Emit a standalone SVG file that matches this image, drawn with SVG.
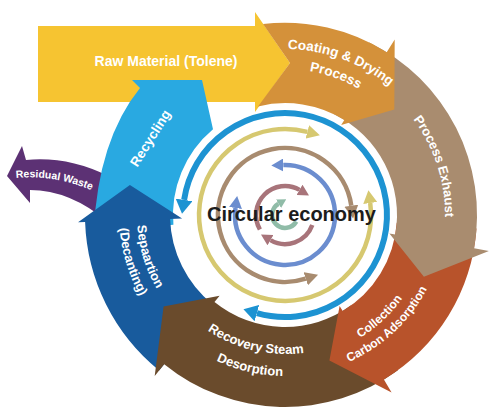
<svg xmlns="http://www.w3.org/2000/svg" width="500" height="417" viewBox="0 0 500 417">
<style>
.lbl{font-family:"Liberation Sans",Arial,sans-serif;font-weight:bold;fill:#ffffff}
.ring{fill:none;stroke-linecap:butt}
.ctr{font-family:"Liberation Sans",Arial,sans-serif;font-weight:bold;fill:#1c1c1c}
</style>
<defs>
<marker id="mBlue" markerUnits="userSpaceOnUse" viewBox="0 0 14 17" refX="0" refY="8.5" markerWidth="14" markerHeight="17" orient="auto-start-reverse"><path d="M0,0 L14,8.5 L0,17 Z" fill="#1D93D2"/></marker>
<marker id="mYel" markerUnits="userSpaceOnUse" viewBox="0 0 13 14" refX="0" refY="7" markerWidth="13" markerHeight="14" orient="auto-start-reverse"><path d="M0,0 L13,7 L0,14 Z" fill="#D6C870"/></marker>
<marker id="mTan" markerUnits="userSpaceOnUse" viewBox="0 0 13 14" refX="0" refY="7" markerWidth="13" markerHeight="14" orient="auto-start-reverse"><path d="M0,0 L13,7 L0,14 Z" fill="#A88B6F"/></marker>
<marker id="mPer" markerUnits="userSpaceOnUse" viewBox="0 0 12 13" refX="0" refY="6.5" markerWidth="12" markerHeight="13" orient="auto-start-reverse"><path d="M0,0 L12,6.5 L0,13 Z" fill="#6B8DCF"/></marker>
<marker id="mMau" markerUnits="userSpaceOnUse" viewBox="0 0 11 12" refX="0" refY="6" markerWidth="11" markerHeight="12" orient="auto-start-reverse"><path d="M0,0 L11,6 L0,12 Z" fill="#A8747A"/></marker>
<marker id="mSag" markerUnits="userSpaceOnUse" viewBox="0 0 9 10" refX="0" refY="5" markerWidth="9" markerHeight="10" orient="auto-start-reverse"><path d="M0,0 L9,5 L0,10 Z" fill="#90BCA8"/></marker>
<path id="tCoat1" d="M178.3,87.9 A166,166 0 0 1 448.5,186.2"/>
<path id="tCoat2" d="M191.2,103.2 A146,146 0 0 1 428.8,189.6"/>
<path id="tExh" d="M318.3,58.5 A160,160 0 0 1 403.9,322.1"/>
<path id="tCol1" d="M242.9,352.7 A144,144 0 0 0 425.3,182.6"/>
<path id="tCol2" d="M238.2,368.1 A160,160 0 0 0 440.9,179"/>
<path id="tRec1" d="M152.1,255.6 A139,139 0 0 0 386.7,309.8"/>
<path id="tRec2" d="M131,262.1 A161,161 0 0 0 402.7,324.8"/>
<path id="tSep1" d="M176.7,114 A148,148 0 0 0 251.7,359.2"/>
<path id="tSep2" d="M163.6,101.8 A166,166 0 0 0 247.6,376.7"/>
<path id="tRes" d="M16,178 Q58,174 100,194"/>
</defs>

<g id="raw-material">
<path d="M38,26 L255,26 L255,12 L290,63 L255,112 L255,102 L38,102 Z" fill="#F6C431"/>
<text class="lbl" x="166" y="66" font-size="14" text-anchor="middle">Raw Material (Tolene)</text>
</g>

<g id="residual-waste">
<path d="M7,176 L22,146 L26,160 Q68,156 108,176 L108,222 Q70,190 30,190 L30,203 Z" fill="#5C3174"/>
<text class="lbl" font-size="10.5"><textPath href="#tRes">Residual Waste</textPath></text>
</g>

<g id="recycling">
<path d="M132,80 L202,80 L213,129.2 A112,112 0 0 0 173.4,224.8 L93.7,231.7 Q98,140 140,88 Z" fill="#29A9E1"/>
<text class="lbl" font-size="13.5" text-anchor="middle" transform="translate(150,138) rotate(-58)" y="5">Recycling</text>
</g>

<g id="separation">
<path d="M159.1,370.4 A200,200 0 0 1 85.1,222 L78.1,222.2 L129.9,184.9 L182.1,218.6 L170.1,219 A115,115 0 0 0 212.6,304.4 Z" fill="#185B9D"/>
<text class="lbl" font-size="13" text-anchor="middle"><textPath href="#tSep1" startOffset="50%">Sepaartion</textPath></text>
<text class="lbl" font-size="13" text-anchor="middle"><textPath href="#tSep2" startOffset="50%">(Decanting)</textPath></text>
</g>

<g id="recovery">
<path d="M397.9,370.3 A192,192 0 0 1 164.2,364.2 L154.7,375.9 L163.6,306.5 L219.6,295.8 L214.5,302 A112,112 0 0 0 350.8,305.6 Z" fill="#6A4B2C"/>
<text class="lbl" font-size="13" text-anchor="middle"><textPath href="#tRec1" startOffset="50%">Recovery Steam</textPath></text>
<text class="lbl" font-size="13" text-anchor="middle"><textPath href="#tRec2" startOffset="50%">Desorption</textPath></text>
</g>

<g id="collection">
<path d="M476.5,228.4 A192,192 0 0 1 383.9,379.6 L391.6,392.4 L329.4,360.4 L339.6,305.9 L342.7,311 A112,112 0 0 0 396.7,222.8 Z" fill="#B8532B"/>
<text class="lbl" font-size="12" text-anchor="middle"><textPath href="#tCol1" startOffset="50%">Collection</textPath></text>
<text class="lbl" font-size="12" text-anchor="middle"><textPath href="#tCol2" startOffset="50%">Carbon Adsorption</textPath></text>
</g>

<g id="process-exhaust">
<path d="M369.2,42.4 A192,192 0 0 1 474.1,248.3 L488.9,250.9 L423.9,276.8 L389.4,233.4 L395.3,234.4 A112,112 0 0 0 334.1,114.3 Z" fill="#A98C6F"/>
<text class="lbl" font-size="13" text-anchor="middle"><textPath href="#tExh" startOffset="50%">Process Exhaust</textPath></text>
</g>

<g id="coating">
<path d="M263,24 A192,192 0 0 1 386.7,52.2 L394.7,39.5 L394.3,109.4 L341.2,125.1 L344.3,120 A112,112 0 0 0 258,106.5 L290,63 Z" fill="#D4913A"/>
<text class="lbl" font-size="13.5" text-anchor="middle"><textPath href="#tCoat1" startOffset="50%">Coating &amp; Drying</textPath></text>
<text class="lbl" font-size="13.5" text-anchor="middle"><textPath href="#tCoat2" startOffset="50%">Process</textPath></text>
</g>

<g id="connectors">
<path class="ring" d="M256.9,313.1 A102,102 0 1 0 184.1,199.9" stroke="#1D93D2" stroke-width="6" marker-start="url(#mBlue)" marker-end="url(#mBlue)"/>
<path class="ring" d="M370.2,203 A86,86 0 1 1 307.3,131.9" stroke="#D6C870" stroke-width="4.5" marker-start="url(#mYel)" marker-end="url(#mYel)"/>
<path class="ring" d="M305.7,278.7 A67,67 0 1 1 351.3,205.7" stroke="#A88B6F" stroke-width="4.5" marker-start="url(#mTan)" marker-end="url(#mTan)"/>
<path class="ring" d="M283.3,165 A50,50 0 1 1 235.5,208" stroke="#6B8DCF" stroke-width="4.5" marker-start="url(#mPer)" marker-end="url(#mPer)"/>
<path class="ring" d="M259.9,229.5 A29,29 0 0 1 299.5,189.9" stroke="#A8747A" stroke-width="4.5" marker-end="url(#mMau)"/>
<path class="ring" d="M312.3,225 A29,29 0 0 1 270.5,240.1" stroke="#A8747A" stroke-width="4.5" marker-end="url(#mMau)"/>
<path class="ring" d="M296.3,221.5 A13,13 0 1 1 278.5,203.7" stroke="#90BCA8" stroke-width="4.5" marker-end="url(#mSag)"/>
</g>

<g id="center-label">
<text class="ctr" x="207" y="221" font-size="20">Circular economy</text>
</g>
</svg>
